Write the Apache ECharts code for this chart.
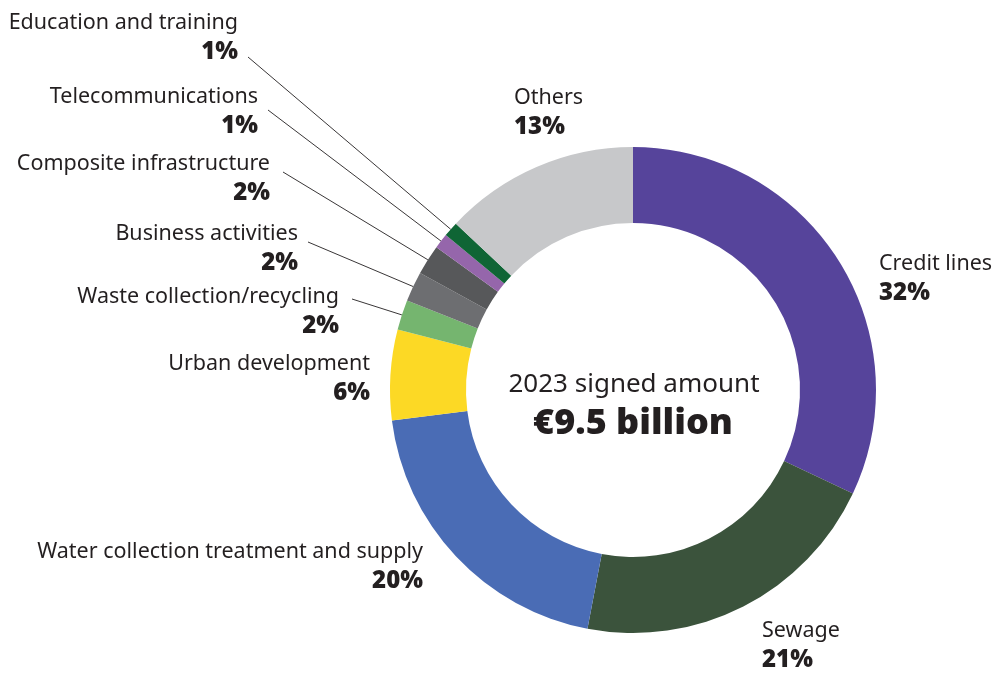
<!DOCTYPE html>
<html>
<head>
<meta charset="utf-8">
<script src="https://cdn.jsdelivr.net/npm/echarts@6/dist/echarts.min.js"></script>
<style>
  html, body { margin: 0; padding: 0; background: #ffffff; }
  #chart { width: 994px; height: 673px; }
</style>
</head>
<body>
<div id="chart"></div>
<script>
// Sector breakdown of the 2023 signed amount (per cent of total)
const categories = [
  'Credit lines',
  'Sewage',
  'Water collection treatment and supply',
  'Urban development',
  'Waste collection/recycling',
  'Business activities',
  'Composite infrastructure',
  'Telecommunications',
  'Education and training',
  'Others'
];
const shares = [32, 21, 20, 6, 2, 2, 2, 1, 1, 13];
const sliceColors = [
  '#56449b', '#3b533c', '#4a6cb5', '#fcd925', '#75b56f',
  '#6d6e71', '#57585a', '#9566ab', '#0f6535', '#c7c8ca'
];
const centreTitle = '2023 signed amount';
const centreValue = '€9.5 billion';

// Label placement per slice: anchor x, centre y of the name line, text alignment,
// and where the leader line leaves the label (null = no leader line)
const labelSpots = [
  { x: 879, y: 264, align: 'left',  lead: null },
  { x: 762, y: 631, align: 'left',  lead: null },
  { x: 423, y: 552, align: 'right', lead: null },
  { x: 370, y: 364, align: 'right', lead: null },
  { x: 339, y: 297, align: 'right', lead: [352, 299] },
  { x: 298, y: 234, align: 'right', lead: [308, 242] },
  { x: 270, y: 164, align: 'right', lead: [283, 172] },
  { x: 258, y: 97,  align: 'right', lead: [268, 110] },
  { x: 238, y: 23,  align: 'right', lead: [248, 57] },
  { x: 514, y: 98,  align: 'left',  lead: null }
];

const LINE_H = 29;
const textColor = '#231f20';
const baseFont = '"Noto Sans", "Open Sans", sans-serif';

const pieData = categories.map((name, i) => ({
  name: name,
  value: shares[i],
  itemStyle: { color: sliceColors[i] },
  labelLine: { show: labelSpots[i].lead !== null }
}));

const chart = echarts.init(document.getElementById('chart'), null, { renderer: 'canvas' });

chart.setOption({
  backgroundColor: '#ffffff',
  animation: false,
  graphic: [
    {
      type: 'text',
      x: 634, y: 385,
      style: {
        text: centreTitle,
        fill: textColor,
        font: '400 26px ' + baseFont,
        textAlign: 'center',
        textVerticalAlign: 'middle'
      }
    },
    {
      type: 'text',
      x: 633, y: 424,
      style: {
        text: centreValue,
        fill: textColor,
        font: '900 36px ' + baseFont,
        textAlign: 'center',
        textVerticalAlign: 'middle'
      }
    }
  ],
  series: [
    {
      type: 'pie',
      center: [633, 390],
      radius: [167, 243],
      startAngle: 90,
      clockwise: true,
      avoidLabelOverlap: false,
      silent: true,
      itemStyle: { borderWidth: 0 },
      label: {
        show: true,
        position: 'outside',
        formatter: (p) => {
          const right = labelSpots[p.dataIndex].align === 'right';
          return right
            ? '{nr|' + p.name + '}\n{pr|' + p.value + '%}'
            : '{n|' + p.name + '}\n{p|' + p.value + '%}';
        },
        rich: {
          n:  { fontFamily: baseFont, fontSize: 21.5, color: textColor, lineHeight: LINE_H },
          p:  { fontFamily: baseFont, fontSize: 24, fontWeight: 900, color: textColor, lineHeight: LINE_H },
          nr: { fontFamily: baseFont, fontSize: 21.5, color: textColor, lineHeight: LINE_H, align: 'right' },
          pr: { fontFamily: baseFont, fontSize: 24, fontWeight: 900, color: textColor, lineHeight: LINE_H, align: 'right' }
        }
      },
      labelLine: {
        show: true,
        length: 10,
        length2: 10,
        lineStyle: { color: '#231f20', width: 0.9 }
      },
      labelLayout: (params) => {
        const spot = labelSpots[params.dataIndex];
        const out = {
          x: spot.x,
          y: spot.y + LINE_H / 2,
          align: spot.align,
          verticalAlign: 'middle'
        };
        if (spot.lead && params.labelLinePoints) {
          const edge = params.labelLinePoints[0];
          out.labelLinePoints = [edge, spot.lead, spot.lead];
        }
        return out;
      },
      data: pieData
    }
  ]
});
</script>
</body>
</html>
